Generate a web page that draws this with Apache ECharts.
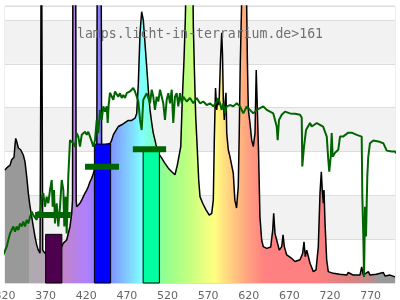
<!DOCTYPE html>
<html><head><meta charset="utf-8">
<script src="https://cdn.jsdelivr.net/npm/echarts@6/dist/echarts.min.js"></script>
<style>html,body{margin:0;padding:0;background:#fff}#c{width:400px;height:300px}</style>
</head><body><div id="c"></div>
<script>
const titleText = 'lamps.licht-in-terrarium.de>161';
const xMin = 320, xMax = 800, xStep = 50;
const yMax = 6.32;

// lamp spectrum: [wavelength nm, relative value]
const lampSpectrum = [[320,2.58],[322.8,2.64],[326.2,2.69],[328.2,2.81],[331.1,2.87],[332.3,3.15],[333.2,3.30],[334.4,3.23],[336.4,3.08],[339.3,3.04],[342.5,2.92],[344.6,2.77],[346.7,2.43],[348.7,2.05],[350.8,1.74],[352.9,1.51],[354.8,1.29],[356.9,1.06],[359.0,0.87],[361.0,0.75],[363.1,0.68],[363.9,3.91],[364.7,9],[365.5,5.57],[366.4,0.75],[367.1,0.71],[369.2,0.68],[375,0.6],[382,0.58],[389,0.8],[391.8,0.91],[395.9,0.98],[397.9,1.13],[400.0,1.29],[402.1,1.59],[403.1,1.89],[403.7,9],[406.8,9],[407.6,1.89],[408.2,1.74],[410.2,1.71],[412.3,1.82],[414.4,1.89],[416.4,1.97],[418.5,2.05],[420.6,2.12],[422.5,2.20],[424.6,2.31],[426.7,2.39],[428.7,2.50],[430.8,2.63],[433.0,2.81],[433.6,9],[438.2,9],[438.9,3.15],[441.8,3.15],[446.8,3.17],[449.6,3.19],[451.3,3.26],[453.3,3.38],[455.4,3.45],[459.4,3.57],[463.6,3.61],[467.7,3.66],[471.8,3.71],[475.9,3.71],[480.0,3.76],[482.1,3.87],[484.1,4.56],[486.2,5.70],[488.2,6.19],[490.2,6.00],[492.3,5.47],[494.4,4.94],[496.4,4.41],[498.5,3.95],[500.6,3.65],[502.5,3.42],[504.6,3.26],[505.9,3.15],[508.7,2.96],[512.9,2.85],[516.9,2.73],[521.0,2.62],[525.2,2.54],[529.2,2.47],[532.1,2.69],[534.5,2.66],[536.3,3.11],[538.2,4.18],[540.3,5.09],[541.9,6.00],[543.6,7.5],[547.1,8],[550.8,7.5],[551.8,5.85],[553.0,4.94],[554.7,3.80],[556.7,3.04],[558.4,2.35],[560.0,1.97],[563.3,1.82],[567.4,1.67],[571.4,1.55],[574.4,1.59],[576.4,1.89],[577.6,3.26],[579.1,4.45],[580.6,3.95],[581.8,4.18],[583.4,4.06],[585.2,5.09],[586.7,5.71],[587.7,5.21],[588.7,4.18],[589.9,3.72],[591.2,4.18],[592.0,4.34],[592.9,3.42],[594.8,3.04],[596.9,2.88],[599.0,2.92],[601.0,2.50],[602.9,1.89],[605.0,1.71],[607.1,2.20],[608.3,3.42],[609.5,4.94],[611.0,6.2],[612.5,7.5],[615.5,8],[617.4,6.4],[618.3,5.09],[619.5,3.95],[621.5,3.65],[623.6,3.26],[625.6,3.11],[627.7,3.42],[629.2,4.86],[630.8,4.86],[632.0,3.04],[633.8,1.51],[635.9,0.98],[637.9,0.83],[642.1,0.79],[647.0,0.82],[649.5,1.21],[650.7,1.59],[652.3,1.13],[654.4,0.98],[657.6,0.75],[660.6,0.83],[662.2,1.10],[663.8,0.83],[666.7,0.64],[672.9,0.56],[676.9,0.49],[683.1,0.53],[686.4,0.68],[688.0,0.94],[689.6,0.60],[691.4,0.75],[693.3,0.79],[695.4,0.45],[699.5,0.26],[702.8,0.30],[705.6,0.83],[707.7,2.05],[709.3,2.54],[710.5,2.12],[711.8,1.82],[712.6,2.12],[713.9,1.36],[715.9,0.53],[717.9,0.26],[724.1,0.22],[732,0.2],[740.6,0.18],[742.5,0.24],[748.7,0.18],[756.9,0.18],[759.0,0.37],[761.0,0.18],[767.2,0.26],[769.2,0.18],[777,0.2],[785.6,0.24],[787.7,0.16],[794,0.18],[800,0.14]];

// daylight reference: [wavelength nm, relative value]
const daylight = [[313.8,0.34],[315.9,0.53],[317.9,0.64],[320.0,0.68],[322.1,0.83],[324.1,0.98],[326.2,1.13],[328.2,1.21],[330.2,1.29],[332.3,1.17],[334.4,1.29],[336.4,1.21],[338.5,1.36],[340.6,1.29],[342.5,1.40],[344.6,1.29],[346.7,1.44],[348.7,1.36],[350.8,1.51],[352.9,1.63],[354.8,1.55],[356.9,1.59],[359.0,1.44],[361.0,1.63],[363.1,1.51],[365.2,1.97],[367.1,2.05],[369.2,1.74],[371.3,1.97],[373.3,1.82],[375.4,2.12],[377.5,2.35],[378.7,1.74],[380.3,2.12],[381.5,1.36],[383.6,1.82],[385.6,1.29],[387.7,1.74],[389.8,2.35],[391.8,2.12],[393.0,1.29],[394.7,1.97],[395.9,1.13],[397.9,2.43],[400.0,3.26],[402.1,3.30],[404.1,3.19],[406.2,3.11],[408.2,3.42],[410.2,3.34],[412.3,3.11],[414.4,3.38],[416.4,3.42],[418.5,3.45],[420.6,3.38],[422.5,3.45],[424.6,3.34],[426.7,3.23],[428.7,3.11],[430.8,3.26],[432.9,3.72],[434.8,3.42],[436.9,3.95],[439.0,3.72],[441.0,4.03],[443.1,3.91],[445.2,4.03],[446.4,3.65],[447.6,4.06],[449.2,4.34],[451.3,4.33],[453.3,4.18],[455.4,4.37],[457.5,4.41],[459.4,4.25],[461.5,4.33],[463.6,4.22],[465.6,4.29],[467.7,4.22],[469.8,4.33],[471.8,4.29],[473.8,4.37],[475.9,4.33],[477.9,4.45],[480.0,4.37],[482.1,4.41],[484.1,4.14],[486.2,3.72],[488.2,3.49],[490.2,4.18],[494.4,4.33],[498.5,4.10],[500.6,4.41],[502.5,4.25],[504.6,3.95],[506.7,4.25],[508.7,4.14],[510.8,4.41],[514.8,4.10],[516.9,3.72],[519.0,4.18],[521.0,4.33],[523.1,4.10],[525.2,4.41],[527.1,3.65],[529.2,4.25],[531.3,4.33],[533.3,4.03],[535.4,4.33],[537.5,4.10],[539.5,4.25],[543.6,4.14],[547.7,4.22],[551.8,4.10],[555.9,4.22],[560.0,4.10],[564.1,4.14],[568.2,4.06],[572.3,4.10],[576.4,4.03],[580.6,4.14],[582.5,4.22],[584.6,4.10],[586.7,3.95],[588.7,4.10],[590.8,3.87],[592.9,4.03],[596.9,4.06],[601.0,4.03],[605.2,4.10],[609.2,4.03],[613.3,3.87],[617.5,4.03],[621.5,3.95],[625.6,3.87],[629.8,3.95],[633.9,3.99],[637.9,4.03],[642.1,3.95],[646.2,3.91],[650.2,3.87],[652.3,3.72],[654.4,3.57],[655.6,3.26],[657.2,3.72],[660.6,3.84],[664.6,3.91],[670.8,3.87],[676.9,3.86],[683.1,3.84],[685.2,3.77],[685.9,2.66],[688.0,3.11],[690.5,3.49],[695.4,3.65],[697.5,3.57],[703.7,3.65],[711.5,3.57],[716.0,3.34],[717.9,2.81],[719.1,2.54],[720.9,2.88],[722.1,3.42],[723.3,2.88],[726.2,2.97],[730.2,3.04],[732.3,3.34],[736.0,3.34],[742.5,3.43],[746.7,3.43],[752.9,3.38],[759.0,3.34],[759.8,1.97],[761.0,1.06],[761.9,0.14],[763.1,1.74],[764.3,1.06],[765.9,2.43],[767.1,2.88],[769.2,3.19],[773.3,3.25],[779.5,3.23],[785.6,3.19],[789.8,3.02],[795.9,3.00],[800.0,3.00],[803.7,2.92]];

// band bars
const barFrom = [370, 430, 490];
const barTo = [390, 450, 510];
const barValue = [1.11, 3.17, 3.00];
// band markers
const markerFrom = [357, 418.5, 477.3];
const markerTo = [401, 460.3, 518.3];
const markerValue = [1.55, 2.65, 3.05];

// styles
const barColors = ['#4d004d', '#0000ff', '#00ffa0'];
const markerColor = '#006400';
const spectrumStops = [[320,'#999999'],[349.9,'#999999'],[350,'#b0a9b0'],[372,'#b2a6b2'],[392,'#c084c8'],[420,'#b080ff'],[440,'#8080ff'],[455,'#80a0ff'],[475,'#80d8ff'],[488,'#80ffff'],[505,'#80ffc0'],[515,'#90ff90'],[545,'#c0ff80'],[565,'#e8ff80'],[578,'#ffff80'],[590,'#ffe080'],[605,'#ffc080'],[620,'#ffa080'],[640,'#ff8080'],[700,'#ff8080'],[740,'#e08080'],[765,'#c88888'],[776,'#b09090'],[777,'#999999'],[800,'#999999']];

const gradient = new echarts.graphic.LinearGradient(0, 0, 1, 0,
  spectrumStops.map(s => ({ offset: (s[0] - xMin) / (xMax - xMin), color: s[1] })));

const barData = barFrom.map((f, i) => [f, barTo[i], barValue[i]]);
const markerData = markerFrom.map((f, i) => [f, markerTo[i], markerValue[i]]);

const chart = echarts.init(document.getElementById('c'), null, { renderer: 'canvas' });
chart.setOption({
  animation: false,
  backgroundColor: '#ffffff',
  title: {
    text: titleText, left: 'center', top: 23,
    textStyle: { fontFamily: 'DejaVu Sans Mono', fontSize: 13.2, fontWeight: 'normal', color: '#707070' }
  },
  grid: { left: 5, right: 5, top: 6, bottom: 17, show: true, borderColor: '#dddddd', borderWidth: 1,
          containLabel: false, outerBoundsMode: 'none' },
  xAxis: {
    type: 'value', min: xMin, max: xMax, interval: xStep,
    axisLine: { show: false }, axisTick: { show: false }, splitLine: { show: false },
    axisLabel: { color: '#666666', fontSize: 11, fontFamily: 'DejaVu Sans', margin: 8,
                 showMaxLabel: false, showMinLabel: true, alignMinLabel: 'center', hideOverlap: false }
  },
  yAxis: {
    type: 'value', min: 0, max: yMax, interval: 1,
    axisLine: { show: false }, axisTick: { show: false }, axisLabel: { show: false },
    splitLine: { lineStyle: { color: '#dddddd', width: 1 } },
    splitArea: { show: true, areaStyle: { color: ['#ffffff', '#f2f2f2'] } }
  },
  series: [
    {
      type: 'line', data: lampSpectrum, symbol: 'none', z: 1,
      lineStyle: { color: '#000000', width: 1.5 },
      areaStyle: { color: gradient, opacity: 1 }
    },
    {
      type: 'custom', data: barData, z: 3, encode: { x: [0, 1], y: 2 },
      renderItem: function (params, api) {
        const a = api.coord([api.value(0), api.value(2)]);
        const b = api.coord([api.value(1), 0]);
        return { type: 'rect', shape: { x: a[0], y: a[1], width: b[0] - a[0], height: b[1] - a[1] },
                 style: { fill: barColors[params.dataIndex], stroke: '#000000', lineWidth: 1 } };
      }
    },
    {
      type: 'custom', data: markerData, z: 4, encode: { x: [0, 1], y: 2 },
      renderItem: function (params, api) {
        const a = api.coord([api.value(0), api.value(2)]);
        const b = api.coord([api.value(1), api.value(2)]);
        return { type: 'rect', shape: { x: a[0], y: a[1] - 3, width: b[0] - a[0], height: 6 },
                 style: { fill: markerColor } };
      }
    },
    {
      type: 'line', data: daylight, symbol: 'none', z: 5, clip: false,
      lineStyle: { color: '#006400', width: 2 }
    }
  ]
});
</script>
</body></html>
